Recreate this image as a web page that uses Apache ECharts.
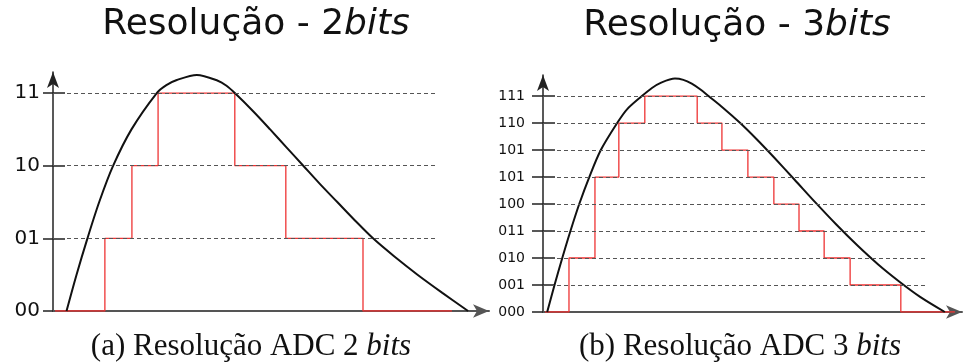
<!DOCTYPE html>
<html>
<head>
<meta charset="utf-8">
<script src="https://cdn.jsdelivr.net/npm/echarts@6/dist/echarts.min.js"></script>
<style>
  html, body { margin: 0; padding: 0; background: #fff; }
  #main { width: 967px; height: 362px; }
</style>
</head>
<body>
<div id="main"></div>
<script>
// rótulos dos níveis de quantização
var labels2 = ['00', '01', '10', '11'];
var labels3 = ['000', '001', '010', '011', '100', '101', '101', '110', '111'];

// sinal analógico [t, nível] - 2 bits
var curve2 = [[3.1, 0], [5.4, 0.5], [7.9, 1], [10.6, 1.5], [13.8, 2], [18.0, 2.5], [23.8, 3],
  [26.0, 3.11], [28.4, 3.18], [33.0, 3.25], [37.8, 3.17], [39.8, 3.1], [41.7, 3], [45.9, 2.75],
  [49.8, 2.5], [53.6, 2.25], [57.4, 2], [61.2, 1.75], [65.2, 1.5], [69.2, 1.25], [73.4, 1],
  [78.3, 0.75], [83.6, 0.5], [89.3, 0.25], [95.2, 0]];
// saída do ADC [t de início, nível] - 2 bits
var steps2 = [[0.46, 0], [11.9, 1], [18.1, 2], [24.1, 3], [41.7, 2], [53.4, 1], [71.1, 0], [91.5, 0]];

// sinal analógico [t, nível] - 3 bits
var curve3 = [[1.0, 0], [2.75, 1], [4.6, 2], [6.55, 3], [8.65, 4], [11.05, 5], [13.8, 6], [17.7, 7],
  [20.0, 7.5], [23.6, 8], [26.0, 8.3], [28.2, 8.5], [31.5, 8.65], [33.5, 8.6], [35.5, 8.46],
  [37.5, 8.25], [39.5, 8.0], [43.0, 7.56], [47.0, 7.01], [51.0, 6.4], [55.0, 5.75], [60.0, 4.91],
  [65.0, 4.06], [70.0, 3.24], [75.0, 2.47], [80.0, 1.76], [85.0, 1.13], [90.0, 0.56], [95.9, 0]];
// saída do ADC [t de início, nível] - 3 bits
var steps3 = [[0.48, 0], [6.2, 2], [12.4, 5], [18.1, 7], [24.3, 8], [36.8, 7], [42.7, 6], [48.9, 5],
  [55.1, 4], [61.1, 3], [67.1, 2], [73.3, 1], [85.4, 0], [98.3, 0]];

var dashEnd2 = 88.1;
var dashEnd3 = 91.2;

var myChart = echarts.init(document.getElementById('main'));

function levels(n) {
  var out = [];
  for (var i = 0; i < n; i++) out.push(i);
  return out;
}

function gridLines(labels, xEnd) {
  return levels(labels.length).slice(1).map(function (l) {
    return [{ coord: [0, l] }, { coord: [xEnd, l] }];
  });
}

function yMain(grid, labels, max, fontSize, margin, tickLen) {
  return {
    type: 'value', gridIndex: grid, min: 0, max: max,
    axisLine: { show: true, lineStyle: { color: '#222', width: 1.5 },
      symbol: ['none', 'arrow'], symbolSize: [9, 16] },
    axisTick: { show: true, length: tickLen, customValues: levels(labels.length),
      lineStyle: { color: '#222', width: 1.5 } },
    axisLabel: { show: true, margin: margin, customValues: levels(labels.length),
      fontFamily: 'DejaVu Sans', fontSize: fontSize, color: '#111',
      formatter: function (v) { return labels[Math.round(v)]; } },
    splitLine: { show: false }
  };
}

function yInner(grid, labels, max, len) {
  return {
    type: 'value', gridIndex: grid, min: 0, max: max, position: 'left',
    axisLine: { show: false },
    axisTick: { show: true, inside: true, length: len, customValues: levels(labels.length).slice(1),
      lineStyle: { color: '#222', width: 1.5 } },
    axisLabel: { show: false },
    splitLine: { show: false }
  };
}

function xAxisFor(grid) {
  return {
    type: 'value', gridIndex: grid, min: 0, max: 100,
    axisLine: { show: true, onZero: false, lineStyle: { color: '#555', width: 2 },
      symbol: ['none', 'arrow'], symbolSize: [10, 16] },
    axisTick: { show: false }, axisLabel: { show: false }, splitLine: { show: false }
  };
}

function heading(x, y, plain, ital, font, size) {
  return {
    type: 'text', x: x, y: y,
    style: {
      text: '{n|' + plain + '}{i|' + ital + '}', align: 'center', verticalAlign: 'middle',
      rich: {
        n: { fontFamily: font, fontSize: size, fill: '#111' },
        i: { fontFamily: font, fontStyle: 'italic', fontSize: size, fill: '#111' }
      }
    }
  };
}

option = {
  animation: false,
  grid: [
    { left: 53, top: 72, width: 436, height: 239 },
    { left: 543, top: 75, width: 419, height: 237 }
  ],
  xAxis: [xAxisFor(0), xAxisFor(1)],
  yAxis: [
    yMain(0, labels2, 3.29, 20, 13, 10),
    yInner(0, labels2, 3.29, 12),
    yMain(1, labels3, 8.78, 14, 18, 11),
    yInner(1, labels3, 8.78, 12)
  ],
  graphic: [
    heading(256, 25, 'Resolução - 2', 'bits', 'DejaVu Sans', 36),
    heading(737, 26, 'Resolução - 3', 'bits', 'DejaVu Sans', 36),
    heading(251, 347, '(a) Resolução ADC 2 ', 'bits', 'Liberation Serif', 31),
    heading(740, 347, '(b) Resolução ADC 3 ', 'bits', 'Liberation Serif', 31)
  ],
  series: [
    {
      name: 'ADC 2 bits', type: 'line', xAxisIndex: 0, yAxisIndex: 0, step: 'end',
      data: steps2, showSymbol: false, lineStyle: { color: '#ee3333', width: 1.3 },
      markLine: { silent: true, symbol: ['none', 'none'], label: { show: false },
        lineStyle: { color: '#555', type: [4, 3], width: 1 }, data: gridLines(labels2, dashEnd2) }
    },
    {
      name: 'Sinal 2 bits', type: 'line', xAxisIndex: 0, yAxisIndex: 0, smooth: 0.3,
      data: curve2, showSymbol: false, lineStyle: { color: '#111', width: 2 }
    },
    {
      name: 'ADC 3 bits', type: 'line', xAxisIndex: 1, yAxisIndex: 2, step: 'end',
      data: steps3, showSymbol: false, lineStyle: { color: '#ee3333', width: 1.3 },
      markLine: { silent: true, symbol: ['none', 'none'], label: { show: false },
        lineStyle: { color: '#555', type: [4, 3], width: 1 }, data: gridLines(labels3, dashEnd3) }
    },
    {
      name: 'Sinal 3 bits', type: 'line', xAxisIndex: 1, yAxisIndex: 2, smooth: 0.3,
      data: curve3, showSymbol: false, lineStyle: { color: '#111', width: 2 }
    }
  ]
};

myChart.setOption(option);
</script>
</body>
</html>
